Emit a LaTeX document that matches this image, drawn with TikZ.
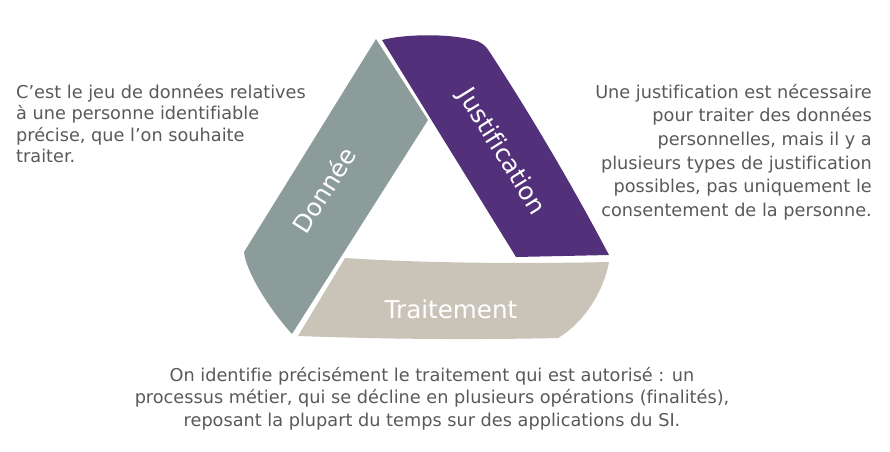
\documentclass[tikz,border=0pt]{standalone}
\usepackage{fontspec}
\setmainfont[Ligatures=NoCommon]{DejaVu Sans}
\definecolor{grayband}{HTML}{8C9C9B}
\definecolor{purpleband}{HTML}{52307A}
\definecolor{beigeband}{HTML}{C9C3B8}
\definecolor{bodytext}{HTML}{595959}
\begin{document}
\begin{tikzpicture}[x=1pt,y=-1pt,
  bandlabel/.style={text=white,font=\fontsize{24.6}{28}\selectfont,inner sep=0pt},
  desc/.style={text=bodytext,inner sep=0pt}]
\useasboundingbox (0,0) rectangle (890,451);
% bands
\fill[grayband] (376,39) -- (428,120) -- (292,334)
  .. controls (270,310) and (246,272) .. (244,252) -- cycle;
\fill[purpleband] (382,40) .. controls (405,34) and (450,33) .. (477,41)
  .. controls (482,43) and (486,46) .. (489,51)
  .. controls (532,117) and (572,185) .. (609,255) -- (516,257) -- cycle;
\fill[beigeband] (345,258) .. controls (420,263) and (520,264) .. (609,262)
  .. controls (604,290) and (585,322) .. (558,338)
  .. controls (470,340) and (380,339) .. (298,336) -- cycle;
% band labels
\node[bandlabel,rotate=58] (donnee) at (324,190) {Donnée};
\node[bandlabel,rotate=-58] (justif) at (501,152) {Justification};
\node[bandlabel] (traitement) at (451,309) {Traitement};
% descriptions
\node[desc,anchor=north west,align=left,font=\fontsize{17.7}{21.5}\selectfont] (descdonnee) at (16,84)
  {C’est le jeu de données relatives\\à une personne identifiable\\précise, que l’on souhaite\\traiter.};
\node[desc,anchor=north east,align=right,font=\fontsize{17.7}{23.6}\selectfont] (descjustif) at (872,84)
  {Une justification est nécessaire\\pour traiter des données\\personnelles, mais il y a\\plusieurs types de justification\\possibles, pas uniquement le\\consentement de la personne.};
\node[desc,anchor=north,align=center,font=\fontsize{17.7}{22.5}\selectfont] (desctraitement) at (432,367)
  {On identifie précisément le traitement qui est autorisé : un\\processus métier, qui se décline en plusieurs opérations (finalités),\\reposant la plupart du temps sur des applications du SI.};
\end{tikzpicture}
\end{document}
